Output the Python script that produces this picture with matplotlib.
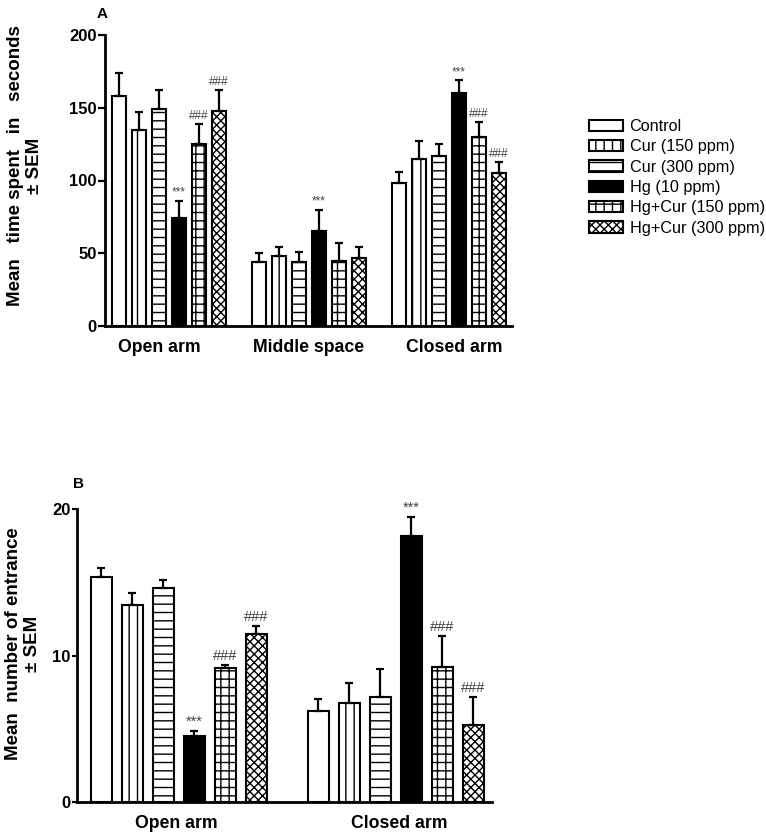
import matplotlib
matplotlib.use('Agg')
import matplotlib.pyplot as plt
import numpy as np

plt.rcParams['font.family'] = ['Liberation Sans', 'DejaVu Sans']
plt.rcParams['hatch.linewidth'] = 1.0

# ---------------- data ----------------
treatments = ['Control', 'Cur (150 ppm)', 'Cur (300 ppm)', 'Hg (10 ppm)',
              'Hg+Cur (150 ppm)', 'Hg+Cur (300 ppm)']

# Panel A: time spent (s)
cats_A = ['Open arm', 'Middle space', 'Closed arm']
A_control = [158, 44, 98]
A_cur150 = [135, 48, 115]
A_cur300 = [149, 44, 117]
A_hg = [74, 65, 160]
A_hgcur150 = [125, 45, 130]
A_hgcur300 = [148, 47, 105]
A_sem_control = [16, 6, 8]
A_sem_cur150 = [12, 6, 12]
A_sem_cur300 = [13, 7, 8]
A_sem_hg = [12, 15, 9]
A_sem_hgcur150 = [14, 12, 10]
A_sem_hgcur300 = [14, 7, 8]
A_sig_hg = ['***', '***', '***']
A_sig_hgcur150 = ['###', '', '###']
A_sig_hgcur300 = ['###', '', '###']

# Panel B: number of entrances
cats_B = ['Open arm', 'Closed arm']
B_control = [15.4, 6.2]
B_cur150 = [13.5, 6.75]
B_cur300 = [14.6, 7.2]
B_hg = [4.55, 18.2]
B_hgcur150 = [9.2, 9.25]
B_hgcur300 = [11.5, 5.25]
B_sem_control = [0.6, 0.85]
B_sem_cur150 = [0.8, 1.4]
B_sem_cur300 = [0.6, 1.9]
B_sem_hg = [0.3, 1.3]
B_sem_hgcur150 = [0.2, 2.1]
B_sem_hgcur300 = [0.55, 1.95]
B_sig_hg = ['***', '***']
B_sig_hgcur150 = ['###', '###']
B_sig_hgcur300 = ['###', '###']

# ---------------- styles ----------------
faces = ['white', 'white', 'white', 'black', 'white', 'white']
hatches = ['', '||', '--', '', '++', 'xxxx']

fig = plt.figure(figsize=(7.66, 8.4), dpi=100)

def panel(ax, cats, means, sems, sigs, group_step, width, sig_size, ylim, yticks,
          xlim, ticklen, tick_offsets):
    gpos = np.arange(len(cats)) * group_step
    handles = []
    for i, (m, s) in enumerate(zip(means, sems)):
        x = gpos + (i - 2.5)
        b = ax.bar(x, m, width=width, color=faces[i], edgecolor='black',
                   hatch=hatches[i], linewidth=1.5, zorder=2, label=treatments[i])
        handles.append(b)
        ax.errorbar(x, m, yerr=[np.zeros(len(s)), s], fmt='none', ecolor='black',
                    elinewidth=1.6, capsize=3.2, capthick=1.6, zorder=3)
        if sigs[i] is not None:
            for xx, mm, ss, t in zip(x, m, s, sigs[i]):
                if t:
                    ax.annotate(t, (xx, mm + ss), xytext=(0, 1.5),
                                textcoords='offset points', ha='center', va='bottom',
                                fontsize=sig_size, color='#444444')
    ax.set_xlim(*xlim)
    ax.set_ylim(*ylim)
    ax.set_yticks(yticks)
    ax.set_xticks(gpos + np.array(tick_offsets))
    ax.set_xticklabels(cats, fontsize=12.7, fontweight='bold')
    for lab in ax.get_yticklabels():
        lab.set_fontweight('bold')
        lab.set_fontsize(12)
    ax.tick_params(axis='x', length=0, pad=9)
    ax.tick_params(axis='y', length=ticklen, width=1.6, pad=1, direction='out')
    for sp in ['top', 'right']:
        ax.spines[sp].set_visible(False)
    for sp in ['left', 'bottom']:
        ax.spines[sp].set_linewidth(2)
    return handles

axA = fig.add_axes([105/766, 1-326/840, (512-105)/766, (326-35)/840])
hA = panel(axA, cats_A,
           [A_control, A_cur150, A_cur300, A_hg, A_hgcur150, A_hgcur300],
           [A_sem_control, A_sem_cur150, A_sem_cur300, A_sem_hg, A_sem_hgcur150, A_sem_hgcur300],
           [None, None, None, A_sig_hg, A_sig_hgcur150, A_sig_hgcur300],
           7, 0.7, 8.5, (0, 200), [0, 50, 100, 150, 200], (-3.2, 17.15), 5,
           [-0.5, 0, 0.25])
axA.set_ylabel('Mean   time spent   in   seconds\n± SEM', fontsize=13.5,
               fontweight='bold', linespacing=1.2)
axA.yaxis.set_label_coords(-0.152, 0.55)

axB = fig.add_axes([77/766, 1-802.3/840, (492-77)/766, (802.3-509.3)/840])
hB = panel(axB, cats_B,
           [B_control, B_cur150, B_cur300, B_hg, B_hgcur150, B_hgcur300],
           [B_sem_control, B_sem_cur150, B_sem_cur300, B_sem_hg, B_sem_hgcur150, B_sem_hgcur300],
           [None, None, None, B_sig_hg, B_sig_hgcur150, B_sig_hgcur300],
           7, 0.68, 10.5, (0, 20), [0, 10, 20], (-3.29, 10.1), 3.5,
           [-0.1, 0.1])
axB.set_ylabel('Mean  number of entrance\n± SEM', fontsize=13.5,
               fontweight='bold', linespacing=1.2)
axB.yaxis.set_label_coords(-0.086, 0.54)

fig.text(102/766, 1-14/840, 'A', fontsize=11, fontweight='bold', ha='center', va='center')
fig.text(79/766, 1-484/840, 'B', fontsize=11, fontweight='bold', ha='center', va='center')

fig.legend(handles=hA, labels=treatments, loc='upper left',
           bbox_to_anchor=(589/766, 1-119/840), frameon=False, fontsize=11.7,
           handlelength=2.1, handleheight=0.7, handletextpad=0.4,
           labelspacing=0.33, borderpad=0, borderaxespad=0)

fig.savefig('out.png', dpi=100)
